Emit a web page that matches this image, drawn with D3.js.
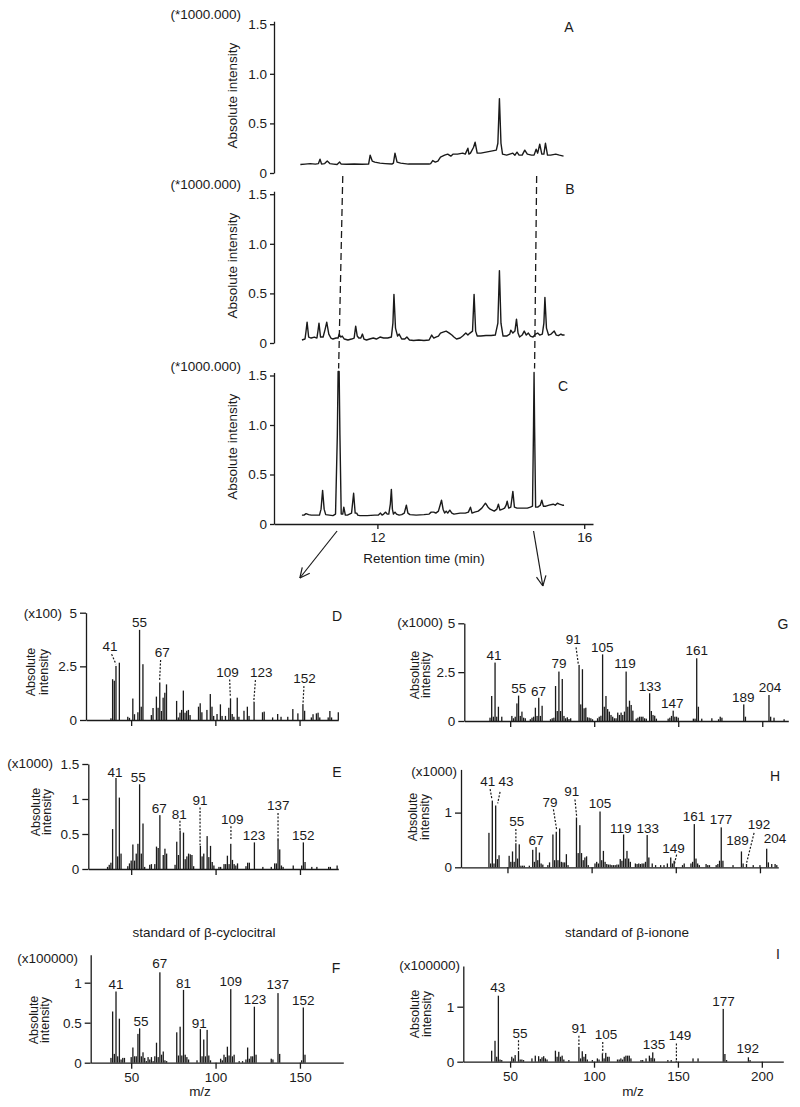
<!DOCTYPE html>
<html>
<head>
<meta charset="utf-8">
<script src="https://cdn.jsdelivr.net/npm/d3@7/dist/d3.min.js"></script>
<style>
  body { margin: 0; background: #fff; }
  svg text { font-family: "Liberation Sans", Arial, sans-serif; fill: #1a1a1a; }
  .axis path, .axis line { stroke: #1a1a1a; stroke-width: 1.3; }
</style>
</head>
<body>
<svg id="fig" width="800" height="1107"></svg>
<script>
// ---- chromatograms (retention time in min, intensity *1000) ----
const chromTicks = [0, 0.5, 1.0, 1.5];
const retentionTicks = [12, 16];

const traceA = [[10.51,0.085],[10.6,0.09],[10.7,0.095],[10.8,0.09],[10.86,0.095],[10.89,0.14],[10.92,0.09],[10.98,0.095],[11.03,0.12],[11.08,0.095],[11.15,0.09],[11.22,0.085],[11.27,0.11],[11.3,0.09],[11.4,0.088],[11.55,0.09],[11.7,0.088],[11.83,0.09],[11.86,0.18],[11.9,0.12],[11.95,0.11],[12.05,0.1],[12.15,0.095],[12.28,0.09],[12.31,0.1],[12.34,0.2],[12.38,0.11],[12.45,0.1],[12.6,0.09],[12.8,0.09],[13.0,0.09],[13.03,0.095],[13.07,0.125],[13.12,0.11],[13.17,0.12],[13.22,0.16],[13.3,0.18],[13.36,0.19],[13.42,0.17],[13.46,0.19],[13.55,0.19],[13.65,0.2],[13.7,0.19],[13.75,0.25],[13.77,0.19],[13.8,0.2],[13.86,0.26],[13.89,0.31],[13.93,0.2],[14.0,0.2],[14.1,0.21],[14.2,0.22],[14.3,0.23],[14.33,0.3],[14.36,0.75],[14.39,0.3],[14.42,0.19],[14.5,0.18],[14.56,0.19],[14.62,0.2],[14.66,0.18],[14.7,0.21],[14.74,0.18],[14.8,0.18],[14.85,0.23],[14.9,0.19],[14.98,0.18],[15.03,0.18],[15.07,0.24],[15.1,0.2],[15.14,0.29],[15.18,0.19],[15.22,0.19],[15.25,0.3],[15.29,0.18],[15.35,0.18],[15.45,0.19],[15.52,0.18],[15.6,0.17]];

const traceB = [[10.54,0.03],[10.6,0.04],[10.62,0.12],[10.64,0.21],[10.67,0.06],[10.72,0.05],[10.78,0.06],[10.83,0.05],[10.85,0.12],[10.87,0.2],[10.9,0.06],[10.95,0.06],[10.99,0.14],[11.02,0.21],[11.06,0.09],[11.1,0.05],[11.14,0.04],[11.2,0.05],[11.24,0.05],[11.26,0.09],[11.29,0.06],[11.32,0.07],[11.36,0.04],[11.43,0.03],[11.5,0.04],[11.55,0.05],[11.58,0.17],[11.61,0.07],[11.64,0.05],[11.68,0.05],[11.71,0.09],[11.74,0.04],[11.79,0.03],[11.85,0.04],[11.92,0.05],[11.98,0.04],[12.05,0.06],[12.12,0.05],[12.2,0.05],[12.27,0.06],[12.3,0.2],[12.32,0.49],[12.35,0.15],[12.39,0.07],[12.42,0.09],[12.47,0.04],[12.53,0.04],[12.57,0.06],[12.62,0.03],[12.7,0.025],[12.8,0.03],[12.9,0.025],[13.0,0.03],[13.05,0.08],[13.09,0.05],[13.13,0.06],[13.18,0.07],[13.22,0.1],[13.27,0.11],[13.33,0.12],[13.39,0.1],[13.44,0.08],[13.48,0.06],[13.53,0.04],[13.6,0.05],[13.65,0.07],[13.71,0.1],[13.75,0.08],[13.79,0.1],[13.84,0.12],[13.87,0.49],[13.9,0.12],[13.93,0.07],[14.0,0.07],[14.1,0.075],[14.2,0.075],[14.28,0.08],[14.33,0.2],[14.36,0.73],[14.39,0.2],[14.43,0.07],[14.5,0.07],[14.56,0.09],[14.58,0.13],[14.62,0.1],[14.66,0.12],[14.69,0.24],[14.72,0.1],[14.75,0.06],[14.8,0.08],[14.84,0.12],[14.88,0.08],[14.92,0.1],[14.96,0.07],[15.01,0.06],[15.06,0.09],[15.1,0.1],[15.14,0.08],[15.19,0.09],[15.22,0.2],[15.24,0.46],[15.27,0.15],[15.31,0.08],[15.36,0.09],[15.42,0.12],[15.46,0.08],[15.5,0.075],[15.55,0.09],[15.58,0.08],[15.62,0.08]];

const traceC = [[10.54,0.09],[10.58,0.09],[10.62,0.105],[10.67,0.095],[10.72,0.09],[10.8,0.09],[10.88,0.09],[10.91,0.15],[10.94,0.34],[10.97,0.15],[11.0,0.095],[11.07,0.09],[11.14,0.085],[11.19,0.1],[11.225,0.9],[11.24,1.54],[11.26,1.54],[11.275,0.9],[11.3,0.1],[11.33,0.1],[11.35,0.17],[11.38,0.09],[11.42,0.09],[11.46,0.1],[11.5,0.11],[11.54,0.31],[11.57,0.11],[11.6,0.11],[11.62,0.09],[11.66,0.085],[11.8,0.085],[11.95,0.09],[12.02,0.09],[12.06,0.11],[12.09,0.09],[12.12,0.1],[12.16,0.12],[12.19,0.1],[12.22,0.1],[12.25,0.2],[12.27,0.35],[12.29,0.15],[12.31,0.1],[12.34,0.12],[12.37,0.1],[12.42,0.09],[12.47,0.095],[12.52,0.11],[12.56,0.19],[12.59,0.11],[12.63,0.095],[12.75,0.09],[12.9,0.095],[13.0,0.1],[13.04,0.12],[13.09,0.12],[13.13,0.11],[13.18,0.13],[13.24,0.24],[13.27,0.15],[13.3,0.11],[13.33,0.13],[13.36,0.11],[13.4,0.14],[13.44,0.11],[13.48,0.1],[13.6,0.11],[13.7,0.11],[13.76,0.12],[13.8,0.17],[13.83,0.11],[13.88,0.12],[13.95,0.13],[14.02,0.16],[14.09,0.21],[14.14,0.17],[14.18,0.15],[14.22,0.14],[14.26,0.13],[14.31,0.15],[14.34,0.2],[14.37,0.14],[14.42,0.15],[14.46,0.16],[14.49,0.19],[14.51,0.23],[14.54,0.16],[14.58,0.17],[14.6,0.25],[14.62,0.33],[14.65,0.17],[14.7,0.16],[14.8,0.16],[14.9,0.16],[14.96,0.17],[15.0,0.18],[15.02,1.0],[15.03,1.53],[15.04,1.0],[15.06,0.17],[15.1,0.17],[15.15,0.19],[15.18,0.24],[15.21,0.18],[15.26,0.18],[15.32,0.19],[15.4,0.2],[15.44,0.19],[15.48,0.21],[15.52,0.2],[15.58,0.19],[15.61,0.19]];

// retention times joined by the dashed guides (top in A, bottom in C)
const guideTimes = [[11.33, 11.25], [15.08, 15.04]];
// arrows from C peaks down to the spectra
const arrowTimes = [[11.22, 10.5], [15.02, 15.2]];

// ---- mass spectra: [m/z, intensity] ----
const mzTicksLeft = [50, 100, 150];
const mzTicksRight = [50, 100, 150, 200];

const specD = [[38,0.08],[39,1.9],[40,1.83],[41,2.52],[43,2.67],[48,0.15],[49,0.1],[51,1.0],[52,0.27],[54,0.36],[55,4.2],[56,0.62],[57,2.6],[62,0.23],[63,0.56],[65,1.09],[66,0.57],[67,1.75],[68,0.42],[69,1.04],[70,1.27],[71,1.66],[77,0.89],[78,0.12],[79,0.34],[80,0.47],[81,1.37],[82,0.34],[83,0.43],[84,0.47],[85,0.23],[90,0.62],[91,0.78],[92,0.36],[95,0.47],[97,1.21],[98,0.62],[99,0.19],[101,0.28],[103,0.73],[104,0.19],[106,0.19],[108,0.57],[109,1.01],[110,0.28],[111,0.15],[113,1.04],[114,0.15],[117,0.43],[119,0.62],[120,0.19],[123,0.85],[128,0.36],[129,0.39],[134,0.12],[137,0.28],[139,0.15],[143,0.15],[146,0.51],[149,0.31],[152,0.7],[153,0.43],[157,0.12],[158,0.27],[160,0.31],[161,0.34],[162,0.12],[167,0.12],[168,0.42],[169,0.12],[173,0.36]];
const specE = [[36,0.03],[37,0.06],[38,0.09],[39,0.57],[41,1.3],[42,0.18],[43,1.02],[44,0.22],[48,0.04],[49,0.08],[50,0.12],[51,0.35],[52,0.12],[53,0.22],[54,0.36],[55,1.21],[56,0.22],[57,0.65],[58,0.03],[61,0.06],[62,0.07],[64,0.07],[65,0.32],[66,0.3],[67,0.77],[69,0.2],[70,0.29],[71,0.22],[76,0.06],[77,0.39],[78,0.2],[79,0.55],[81,0.52],[82,0.14],[83,0.18],[84,0.22],[85,0.21],[86,0.2],[87,0.04],[91,0.33],[92,0.18],[93,0.22],[95,0.47],[96,0.17],[97,0.33],[98,0.1],[99,0.05],[102,0.03],[103,0.03],[105,0.07],[106,0.07],[107,0.19],[108,0.07],[109,0.36],[110,0.13],[111,0.07],[112,0.05],[113,0.08],[118,0.04],[119,0.09],[120,0.09],[123,0.38],[128,0.03],[133,0.03],[135,0.08],[136,0.08],[137,0.42],[138,0.28],[139,0.05],[140,0.03],[146,0.05],[151,0.05],[152,0.38],[153,0.1],[157,0.03],[160,0.03],[167,0.03],[168,0.03],[172,0.05]];
const specF = [[38,0.06],[39,0.64],[40,0.11],[41,0.89],[42,0.08],[43,0.55],[44,0.04],[45,0.06],[46,0.06],[50,0.07],[51,0.19],[52,0.08],[53,0.08],[54,0.36],[55,0.43],[56,0.08],[57,0.13],[58,0.06],[59,0.02],[60,0.07],[61,0.04],[62,0.07],[63,0.02],[64,0.08],[65,0.25],[66,0.07],[67,1.13],[68,0.1],[69,0.14],[70,0.03],[71,0.02],[77,0.38],[78,0.09],[79,0.45],[80,0.09],[81,0.91],[82,0.1],[83,0.07],[84,0.04],[89,0.03],[91,0.42],[92,0.08],[93,0.29],[94,0.08],[95,0.41],[96,0.09],[97,0.03],[103,0.05],[104,0.03],[105,0.1],[106,0.07],[107,0.2],[108,0.09],[109,0.92],[110,0.08],[111,0.1],[114,0.02],[116,0.02],[118,0.04],[119,0.19],[120,0.05],[121,0.08],[122,0.08],[123,0.7],[124,0.1],[133,0.05],[134,0.04],[137,0.87],[138,0.11],[151,0.03],[152,0.69],[153,0.1]];
const specG = [[38,0.17],[39,1.28],[40,0.22],[41,2.99],[42,0.22],[43,0.73],[45,0.22],[51,0.26],[52,0.14],[53,0.22],[54,0.9],[55,1.3],[56,0.26],[57,0.48],[58,0.17],[59,0.14],[62,0.09],[63,0.17],[64,0.22],[65,0.68],[66,0.26],[67,1.19],[68,0.26],[69,0.78],[74,0.09],[75,0.14],[76,0.17],[77,1.79],[78,0.51],[79,2.53],[80,0.51],[81,2.15],[82,0.26],[83,0.14],[84,0.19],[85,0.1],[86,0.14],[91,2.87],[92,0.85],[93,2.65],[94,0.65],[95,0.68],[96,0.19],[97,0.17],[98,0.14],[99,0.09],[102,0.14],[103,0.22],[104,0.27],[105,3.41],[106,0.73],[107,1.28],[108,0.61],[109,0.48],[110,0.31],[111,0.22],[112,0.14],[113,0.14],[114,0.43],[115,0.31],[116,0.43],[117,0.31],[118,0.48],[119,2.53],[120,0.73],[121,1.04],[122,0.82],[123,0.53],[125,0.12],[126,0.17],[127,0.22],[128,0.22],[129,0.22],[130,0.14],[131,0.12],[133,1.42],[134,0.51],[135,0.31],[136,0.27],[137,0.12],[144,0.12],[145,0.17],[146,0.26],[147,0.53],[148,0.22],[149,0.22],[150,0.17],[159,0.12],[160,0.12],[161,3.21],[162,0.73],[164,0.12],[170,0.14],[174,0.09],[175,0.22],[176,0.17],[189,0.85],[190,0.22],[204,1.33],[205,0.22],[207,0.17],[213,0.09]];
const specH = [[39,0.63],[40,0.07],[41,1.22],[42,0.07],[43,1.13],[44,0.15],[45,0.22],[51,0.21],[52,0.1],[53,0.29],[54,0.1],[55,0.44],[56,0.16],[57,0.42],[58,0.03],[59,0.03],[60,0.03],[63,0.03],[65,0.32],[66,0.1],[67,0.37],[68,0.13],[69,0.27],[70,0.07],[71,0.05],[74,0.04],[75,0.09],[77,0.6],[78,0.13],[79,0.65],[80,0.13],[81,0.71],[82,0.1],[83,0.09],[84,0.09],[85,0.24],[86,0.04],[91,0.91],[92,0.26],[93,0.77],[94,0.26],[95,0.13],[96,0.18],[97,0.2],[98,0.04],[102,0.07],[103,0.1],[104,0.07],[105,1.02],[106,0.13],[107,0.3],[108,0.1],[109,0.06],[110,0.05],[111,0.05],[112,0.04],[113,0.04],[114,0.04],[115,0.05],[116,0.05],[117,0.15],[118,0.12],[119,0.6],[120,0.16],[121,0.3],[122,0.16],[123,0.1],[126,0.07],[127,0.06],[128,0.07],[129,0.06],[130,0.07],[131,0.07],[132,0.1],[133,0.59],[134,0.18],[136,0.07],[138,0.04],[141,0.04],[143,0.04],[145,0.07],[147,0.18],[148,0.07],[149,0.12],[154,0.04],[155,0.07],[159,0.07],[160,0.1],[161,0.79],[162,0.16],[163,0.07],[164,0.04],[168,0.06],[169,0.04],[170,0.04],[174,0.04],[175,0.06],[176,0.12],[177,0.73],[178,0.12],[184,0.04],[189,0.29],[190,0.07],[192,0.06],[196,0.04],[200,0.04],[204,0.34],[205,0.09],[207,0.06],[209,0.06],[210,0.04]];
const specI = [[39,0.2],[41,0.38],[42,0.09],[43,1.2],[44,0.04],[45,0.03],[51,0.09],[52,0.06],[53,0.12],[55,0.16],[56,0.04],[57,0.04],[58,0.03],[63,0.06],[65,0.11],[67,0.1],[68,0.05],[69,0.08],[70,0.1],[71,0.06],[72,0.04],[77,0.2],[78,0.09],[79,0.18],[80,0.09],[81,0.11],[82,0.04],[85,0.03],[91,0.27],[92,0.06],[93,0.19],[94,0.09],[95,0.14],[96,0.04],[99,0.03],[102,0.06],[103,0.04],[105,0.15],[106,0.06],[107,0.16],[108,0.09],[109,0.09],[114,0.04],[115,0.04],[116,0.06],[117,0.04],[118,0.09],[119,0.11],[120,0.11],[121,0.11],[122,0.06],[128,0.03],[129,0.03],[131,0.06],[133,0.11],[134,0.07],[135,0.17],[136,0.06],[144,0.03],[146,0.03],[149,0.02],[159,0.06],[162,0.06],[177,0.96],[178,0.14],[179,0.03],[192,0.08],[193,0.03]];

// peak labels: [text, m/z position, intensity position]
const labD = [["41",37.4,3.21],["55",55,4.32],["67",68.5,2.95],["109",107.2,2.02],["123",127.3,2.02],["152",153,1.74]];
const labE = [["41",40.4,1.32],["55",54.2,1.24],["67",66.7,0.8],["81",78.5,0.72],["91",90.8,0.91],["109",109.9,0.65],["123",122.8,0.42],["137",137.2,0.84],["152",152,0.42]];
const labF = [["41",41,0.92],["55",55.8,0.46],["67",67,1.18],["81",81,0.94],["91",90.4,0.44],["109",109,0.96],["123",123.4,0.74],["137",136.8,0.92],["152",152,0.72]];
const labG = [["41",40.4,3.12],["55",55.1,1.45],["67",66.8,1.28],["79",79.1,2.7],["91",87.6,3.92],["105",104.8,3.55],["119",118.3,2.73],["133",133.2,1.54],["147",146.5,0.65],["161",161,3.38],["189",188.7,0.99],["204",204.6,1.5]];
const labH = [["41",38.3,1.48],["43",49.2,1.48],["55",55.5,0.76],["67",67,0.4],["79",75.3,1.11],["91",88.2,1.3],["105",105,1.08],["119",117.3,0.63],["133",133.3,0.63],["149",148.6,0.27],["161",160.8,0.84],["177",176.9,0.79],["189",186.6,0.41],["192",199.5,0.7],["204",209,0.44]];
const labI = [["43",42.6,1.26],["55",55.9,0.44],["91",91.1,0.53],["105",107.2,0.42],["135",135.8,0.24],["149",151.3,0.39],["177",177.1,1.01],["192",191.6,0.15]];

// dotted leaders: [m/z1, v1, m/z2, v2]
const leadD = [[38.4,3.07,41,2.6],[67.5,2.8,66.9,1.83],[108.5,1.89,108.9,1.05],[123.8,1.86,122.8,0.85],[152.6,1.58,152,0.7]];
const leadE = [[78.9,0.69,78.9,0.55],[90.8,0.88,90.8,0.34],[109.1,0.61,109.1,0.41],[137,0.8,137,0.41]];
const leadF = [];
const leadG = [[89.2,3.77,90.6,2.87]];
const leadH = [[39.7,1.43,40.8,1.24],[45.6,1.38,44.2,1.17],[55,0.7,55,0.45],[77.3,1.06,79.3,0.67],[90.1,1.24,91.1,0.93],[150.5,0.23,149.2,0.06],[196.5,0.63,192.1,0.085]];
const leadI = [[55,0.39,55,0.15],[91,0.47,91,0.27],[105.2,0.36,105.2,0.15],[149.1,0.33,149.1,0.02]];

const ticksD = [0, 2.5, 5];
const ticksE = [0, 0.5, 1, 1.5];
const ticksF = [0, 0.5, 1];
const ticksG = [0, 2.5, 5];
const ticksH = [0, 1];
const ticksI = [0, 1];

// ---------------------------------------------------------------
const ink = '#1a1a1a';
const svg = d3.select('#fig');

const tx = d3.scaleLinear().domain([10, 16.17]).range([274, 593]);

const chromPanels = [
  { letter: 'A', data: traceA, y0: 173, y15: 24.2, lp: [569, 32] },
  { letter: 'B', data: traceB, y0: 343, y15: 194.2, lp: [570, 194] },
  { letter: 'C', data: traceC, y0: 524, y15: 375.5, lp: [563, 391], xAxis: true },
];

chromPanels.forEach(p => {
  const y = d3.scaleLinear().domain([0, 1.5]).range([p.y0, p.y15]);
  p.y = y;
  const yAx = d3.scaleLinear().domain([0, 1.53]).range([p.y0, y(1.53)]);
  const ax = svg.append('g')
    .attr('class', 'axis')
    .attr('transform', `translate(${tx.range()[0]},0)`)
    .call(d3.axisLeft(yAx).tickValues(chromTicks).tickSize(4).tickSizeOuter(0).tickPadding(3)
      .tickFormat(d => (d === 0 ? '0' : d.toFixed(1))));
  ax.selectAll('text').style('font-size', '13.5px').attr('fill', ink);

  if (p.xAxis) {
    const xa = svg.append('g')
      .attr('class', 'axis')
      .attr('transform', `translate(0,${p.y0})`)
      .call(d3.axisBottom(tx).tickValues(retentionTicks).tickSize(5).tickSizeOuter(0).tickPadding(3)
        .tickFormat(d3.format('d')));
    xa.selectAll('text').style('font-size', '13.5px').attr('fill', ink);
    svg.append('text')
      .attr('x', 424).attr('y', p.y0 + 39)
      .attr('text-anchor', 'middle')
      .style('font-size', '13.5px')
      .text('Retention time (min)');
  }

  const line = d3.line().x(d => tx(d[0])).y(d => y(d[1]));
  svg.append('path')
    .datum(p.data)
    .attr('fill', 'none')
    .attr('stroke', ink)
    .attr('stroke-width', 1.4)
    .attr('stroke-linejoin', 'round')
    .attr('d', line);

  svg.append('text')
    .attr('x', 241).attr('y', y(1.5) - 5)
    .attr('text-anchor', 'end')
    .style('font-size', '13.5px')
    .text('(*1000.000)');

  svg.append('text')
    .attr('transform', `translate(237,${(p.y0 + p.y15) / 2 - 3}) rotate(-90)`)
    .attr('text-anchor', 'middle')
    .style('font-size', '13.5px')
    .text('Absolute intensity');

  svg.append('text')
    .attr('x', p.lp[0]).attr('y', p.lp[1])
    .attr('text-anchor', 'middle')
    .style('font-size', '14px')
    .text(p.letter);
});

const yA = chromPanels[0].y;
const yC = chromPanels[2].y;

guideTimes.forEach(([tTop, tBot]) => {
  svg.append('line')
    .attr('x1', tx(tTop)).attr('y1', yA(0) + 3)
    .attr('x2', tx(tBot)).attr('y2', yC(1.57))
    .attr('stroke', ink)
    .attr('stroke-width', 1.3)
    .attr('stroke-dasharray', '7,4');
});

arrowTimes.forEach(([tFrom, tTo], i) => {
  const x1 = tx(tFrom), y1 = yC(0) + 7;
  const x2 = tx(tTo), y2 = yC(0) + (i === 0 ? 54 : 62);
  svg.append('line')
    .attr('x1', x1).attr('y1', y1).attr('x2', x2).attr('y2', y2)
    .attr('stroke', ink).attr('stroke-width', 1.2);
  const ang = Math.atan2(y1 - y2, x1 - x2);
  [-0.45, 0.45].forEach(da => {
    svg.append('line')
      .attr('x1', x2).attr('y1', y2)
      .attr('x2', x2 + 11 * Math.cos(ang + da)).attr('y2', y2 + 11 * Math.sin(ang + da))
      .attr('stroke', ink).attr('stroke-width', 1.2);
  });
});

// ---------------------------------------------------------------
const spectra = [
  { letter: 'D', bars: specD, labels: labD, leaders: leadD, yTicks: ticksD, unit: '(x100)',
    xd: [23.2, 173], xr: [86, 338.3], yd: [0, 5], yr: [720, 612.7], xTicks: mzTicksLeft,
    lp: [337, 621], up: [62, 618], ap: [35, 47.5, 672] },
  { letter: 'E', bars: specE, labels: labE, leaders: leadE, yTicks: ticksE, unit: '(x1000)',
    xd: [24.6, 172.7], xr: [88.3, 338.3], yd: [0, 1.5], yr: [869, 764], xTicks: mzTicksLeft,
    lp: [337, 777], up: [53, 768], ap: [40, 51, 812] },
  { letter: 'F', bars: specF, labels: labF, leaders: leadF, yTicks: ticksF, unit: '(x100000)',
    xd: [26, 175.7], xr: [90.7, 343.3], yd: [0, 1.35], yr: [1062.7, 954.7], xTicks: mzTicksLeft,
    lp: [336, 973], up: [78, 963], ap: [38, 49, 1020], xLabels: true,
    title: 'standard of β-cyclocitral', tp: [204, 937], mp: [200, 1096] },
  { letter: 'G', bars: specG, labels: labG, leaders: leadG, yTicks: ticksG, unit: '(x1000)',
    xd: [22.7, 215.5], xr: [464.3, 788.3], yd: [0, 5], yr: [721, 623.3], xTicks: mzTicksRight,
    lp: [783, 629], up: [443, 627], ap: [419, 430, 675] },
  { letter: 'H', bars: specH, labels: labH, leaders: leadH, yTicks: ticksH, unit: '(x1000)',
    xd: [22.4, 210.9], xr: [461, 778.3], yd: [0, 1.79], yr: [867.3, 769.4], xTicks: mzTicksRight,
    lp: [775, 781], up: [457, 776], ap: [417, 429, 817] },
  { letter: 'I', bars: specI, labels: labI, leaders: leadI, yTicks: ticksI, unit: '(x100000)',
    xd: [22.1, 212.8], xr: [463.3, 783.3], yd: [0, 1.74], yr: [1061.7, 966], xTicks: mzTicksRight,
    lp: [778, 959], up: [460, 970], ap: [419, 431, 1014], xLabels: true,
    title: 'standard of β-ionone', tp: [627, 937], mp: [633, 1096] },
];

spectra.forEach(p => {
  const x = d3.scaleLinear().domain(p.xd).range(p.xr);
  const y = d3.scaleLinear().domain(p.yd).range(p.yr);
  const g = svg.append('g');

  g.selectAll('rect.bar')
    .data(p.bars)
    .join('rect')
    .attr('class', 'bar')
    .attr('x', d => x(d[0]) - 0.65)
    .attr('width', 1.3)
    .attr('y', d => y(d[1]))
    .attr('height', d => y(0) - y(d[1]))
    .attr('fill', ink);

  const xa = g.append('g')
    .attr('class', 'axis')
    .attr('transform', `translate(0,${y(0)})`)
    .call(d3.axisBottom(x).tickValues(p.xTicks).tickSize(6).tickSizeOuter(0).tickPadding(4)
      .tickFormat(p.xLabels ? d3.format('d') : () => ''));
  xa.selectAll('text').style('font-size', '13.5px').attr('fill', ink);

  const ya = g.append('g')
    .attr('class', 'axis')
    .attr('transform', `translate(${p.xr[0]},0)`)
    .call(d3.axisLeft(y).tickValues(p.yTicks).tickSize(6).tickSizeOuter(0).tickPadding(3)
      .tickFormat(d => String(d)));
  ya.selectAll('text').style('font-size', '13.5px').attr('fill', ink);

  g.selectAll('line.lead')
    .data(p.leaders)
    .join('line')
    .attr('class', 'lead')
    .attr('x1', d => x(d[0])).attr('y1', d => y(d[1]))
    .attr('x2', d => x(d[2])).attr('y2', d => y(d[3]))
    .attr('stroke', ink)
    .attr('stroke-width', 1.2)
    .attr('stroke-dasharray', '2,1.6');

  g.selectAll('text.peak')
    .data(p.labels)
    .join('text')
    .attr('class', 'peak')
    .attr('x', d => x(d[1]))
    .attr('y', d => y(d[2]))
    .attr('text-anchor', 'middle')
    .style('font-size', '13.5px')
    .text(d => d[0]);

  g.append('text')
    .attr('x', p.up[0]).attr('y', p.up[1])
    .attr('text-anchor', 'end')
    .style('font-size', '13.5px')
    .text(p.unit);

  ['Absolute', 'intensity'].forEach((t, i) => {
    g.append('text')
      .attr('transform', `translate(${p.ap[i]},${p.ap[2]}) rotate(-90)`)
      .attr('text-anchor', 'middle')
      .style('font-size', '12.5px')
      .text(t);
  });

  g.append('text')
    .attr('x', p.lp[0]).attr('y', p.lp[1])
    .attr('text-anchor', 'middle')
    .style('font-size', '14px')
    .text(p.letter);

  if (p.title) {
    g.append('text')
      .attr('x', p.tp[0]).attr('y', p.tp[1])
      .attr('text-anchor', 'middle')
      .style('font-size', '13.5px')
      .text(p.title);
    g.append('text')
      .attr('x', p.mp[0]).attr('y', p.mp[1])
      .attr('text-anchor', 'middle')
      .style('font-size', '13.5px')
      .text('m/z');
  }
});
</script>
</body>
</html>
